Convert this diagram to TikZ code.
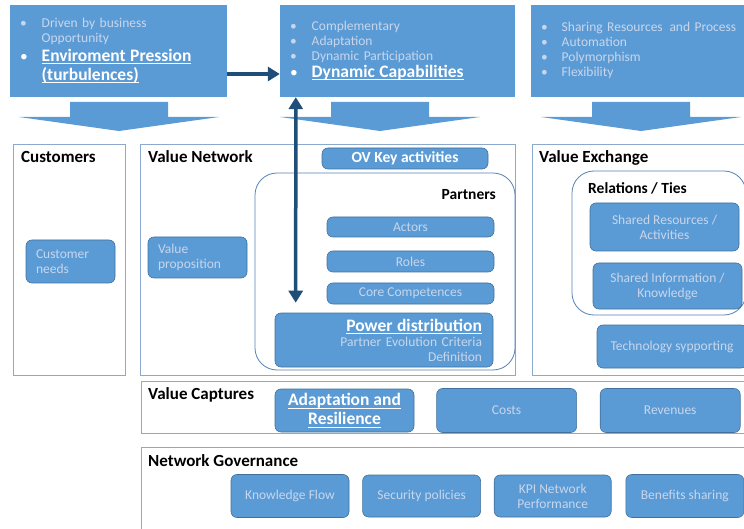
\documentclass[tikz,border=0pt]{standalone}
\usepackage{fontspec}
\setmainfont{Carlito}
\usetikzlibrary{arrows.meta}
\usetikzlibrary{positioning}
\definecolor{boxblue}{RGB}{91,155,213}
\definecolor{itemline}{RGB}{65,113,156}
\definecolor{arealine}{RGB}{140,168,205}
\definecolor{groupline}{RGB}{84,130,180}
\definecolor{paletext}{RGB}{200,214,236}
\definecolor{arrowblue}{RGB}{31,78,121}
\newcommand{\smallfont}{\fontsize{13.5}{15}\selectfont}
\newcommand{\headfont}{\fontsize{17.5}{19}\selectfont\bfseries}
\newcommand{\midfont}{\fontsize{15.5}{17}\selectfont\bfseries}
\newcommand{\titlefont}{\fontsize{17}{19}\selectfont\bfseries}
\newcommand{\underlinetext}[1]{\setbox0\hbox{#1}\rlap{\rule[-2.8pt]{\wd0}{1pt}}\box0}
\newcommand{\headbullet}{{\fontsize{15.5}{15}\selectfont\color{white}\textbullet}}
\tikzstyle{topbox} = [rectangle, fill=boxblue, minimum height=92pt, inner xsep=10pt, inner ysep=0pt, align=left, text=paletext, font=\smallfont]
\tikzstyle{area} = [draw=arealine, line width=1pt]
\tikzstyle{group} = [draw=groupline, line width=0.8pt, rounded corners=22pt]
\tikzstyle{item} = [rectangle, rounded corners=6pt, fill=boxblue, draw=itemline, line width=0.6pt, text=paletext, font=\smallfont, align=center, inner sep=2pt]
\tikzstyle{title} = [anchor=base west, inner sep=0pt, font=\titlefont]
\tikzstyle{subtitle} = [anchor=base west, inner sep=0pt, font=\midfont]
\tikzstyle{push} = [draw=arrowblue, line width=3.5pt, -{Triangle[length=12pt,width=14pt]}]

\begin{document}
\begin{tikzpicture}[x=1pt, y=-1pt, node distance=13pt]
\useasboundingbox (0,0) rectangle (744,529);

 \node (env) [topbox, text width=197pt] at (118.5,51) {
 \begin{tabular}{@{}l@{\hspace{14pt}}l@{}}
  \textbullet & Driven by business\\
   & Opportunity\\[2pt]
  \headbullet & {\headfont\color{white}\underlinetext{Enviroment Pression}}\\[2pt]
   & {\headfont\color{white}\underlinetext{(turbulences)}}
 \end{tabular}};
 \node (dyn) [topbox, text width=215pt] at (397.5,51) {
 \begin{tabular}{@{}l@{\hspace{14pt}}l@{}}
  \textbullet & Complementary\\
  \textbullet & Adaptation\\
  \textbullet & Dynamic Participation\\
  \headbullet & {\headfont\color{white}\underlinetext{Dynamic Capabilities}}
 \end{tabular}};
 \node (share) [topbox, text width=199pt] at (640.5,51) {
 \begin{tabular}{@{}l@{\hspace{14pt}}l@{}}
  \textbullet & Sharing Resources\, and Process\\
  \textbullet & Automation\\
  \textbullet & Polymorphism\\
  \textbullet & Flexibility
 \end{tabular}};

 \foreach \cx in {119,380,641}
  \fill[boxblue] (\cx-49,102) -- (\cx+49,102) -- (\cx+49,117) -- (\cx+100,117)
   -- (\cx,131) -- (\cx-100,117) -- (\cx-49,117) -- cycle;

 \draw[area] (13,145) rectangle (125,375);
 \draw[area] (140,145) rectangle (515,375);
 \draw[area] (532,145) rectangle (750,375);
 \draw[group] (255,173) rectangle (515,370);
 \draw[group] (572,171) rectangle (746,315);
 \draw[area] (141,381) rectangle (750,433);
 \draw[area] (141,447) rectangle (750,540);

 \node (custtitle) [title] at (21,163) {Customers};
 \node (vnettitle) [title] at (148,163) {Value Network};
 \node (vexchtitle) [title] at (539,163) {Value Exchange};
 \node (vcaptitle) [title] at (148,399) {Value Captures};
 \node (ngovtitle) [title] at (148,466) {Network Governance};
 \node (partnerstitle) [subtitle, anchor=base east] at (496,200) {Partners};
 \node (relationstitle) [subtitle] at (588,194) {Relations / Ties};

 \node (needs) [item, minimum width=89pt, minimum height=43pt, text width=69pt, align=left] at (70.5,261.5) {Customer\\needs};
 \node (valprop) [item, minimum width=99pt, minimum height=41pt, text width=79pt, align=left] at (197.5,257.5) {Value\\proposition};
 \node (ovkey) [item, minimum width=166pt, minimum height=21pt, font=\midfont, text=white] at (405,158.5) {OV Key activities};
 \node (actors) [item, minimum width=167pt, minimum height=20pt] at (410.5,227) {Actors};
 \node (roles) [item, minimum width=167pt, minimum height=21pt] at (410.5,261.5) {Roles};
 \node (corecomp) [item, minimum width=167pt, minimum height=21pt] at (410.5,293.5) {Core Competences};
 \node (power) [item, minimum width=218pt, minimum height=54pt, text width=196pt, align=right] at (384,340)
  {{\headfont\color{white}\underlinetext{Power distribution}}\\Partner Evolution Criteria\\Definition};

 \node (sharedres) [item, minimum width=149pt, minimum height=48pt] at (664.5,227) {Shared Resources /\\Activities};
 \node (sharedinfo) [item, minimum width=149pt, minimum height=46pt] at (667.5,286) {Shared Information /\\Knowledge};
 \node (tech) [item, minimum width=150pt, minimum height=43pt] at (672,346.5) {Technology sypporting};

 \node (adapt) [item, minimum width=139pt, minimum height=43pt, font=\headfont, text=white] at (344.5,410.5) {\underlinetext{Adaptation and}\\\underlinetext{Resilience}};
 \node (costs) [item, minimum width=140pt, minimum height=44pt, right=22pt of adapt] {Costs};
 \node (revenues) [item, minimum width=140pt, minimum height=44pt, right=23pt of costs] {Revenues};

 \node (knowflow) [item, minimum width=118pt, minimum height=43pt] at (290,496) {Knowledge Flow};
 \node (secpol) [item, minimum width=118pt, minimum height=42pt, right=of knowflow] {Security policies};
 \node (kpi) [item, minimum width=117pt, minimum height=42pt, right=of secpol] {KPI Network\\Performance};
 \node (benefits) [item, minimum width=118pt, minimum height=43pt, right=14pt of kpi] {Benefits sharing};

 \draw[push] ([yshift=-23pt]env.east) -- ([yshift=-23pt]dyn.west);
 \draw[push, {Triangle[length=12pt,width=14pt]}-{Triangle[length=12pt,width=14pt]}]
  ([xshift=16pt]dyn.south west) -- ([xshift=21pt,yshift=10pt]power.north west);
\end{tikzpicture}
\end{document}
